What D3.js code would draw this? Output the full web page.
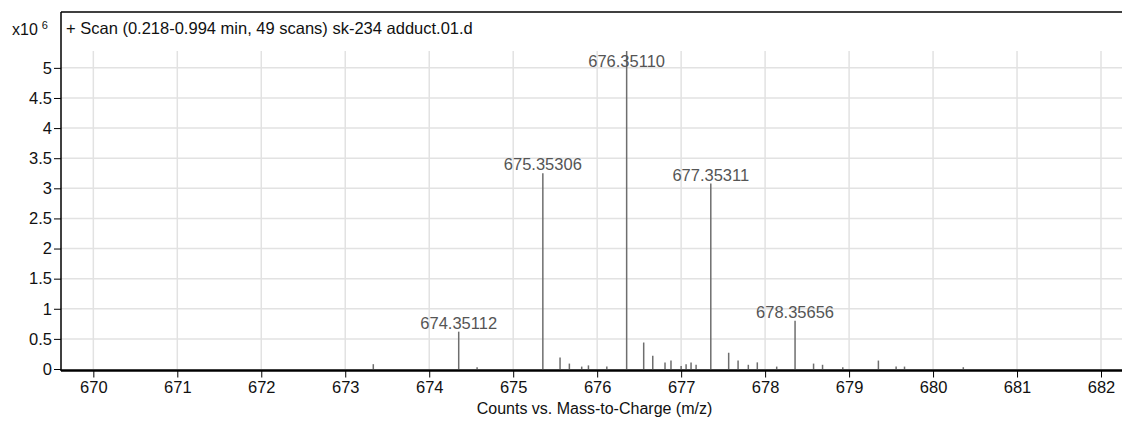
<!DOCTYPE html>
<html>
<head>
<meta charset="utf-8">
<script src="https://cdn.jsdelivr.net/npm/d3@7"></script>
<style>
  body { margin: 0; background: #fff; }
  svg { display: block; font-family: "Liberation Sans", Arial, sans-serif; }
</style>
</head>
<body>
<script>
// peak list (intensity in units of 10^6 counts)
var mzValues = [673.334, 674.35112, 674.570, 675.35306, 675.558, 675.669, 675.816, 675.896,
  676.115, 676.35110, 676.554, 676.662, 676.808, 676.879, 677.000, 677.059, 677.118, 677.178,
  677.35311, 677.566, 677.678, 677.800, 677.907, 678.138, 678.35656, 678.577, 678.684, 678.925,
  679.349, 679.560, 679.660, 680.360];
var counts = [0.08, 0.62, 0.03, 3.25, 0.19, 0.09, 0.04, 0.06,
  0.04, 5.30, 0.44, 0.22, 0.11, 0.14, 0.05, 0.08, 0.11, 0.07,
  3.08, 0.27, 0.14, 0.07, 0.11, 0.04, 0.80, 0.09, 0.07, 0.03,
  0.14, 0.04, 0.04, 0.03];
var labeledPeaks = ['674.35112', '675.35306', '676.35110', '677.35311', '678.35656'];

var xTicks = [670, 671, 672, 673, 674, 675, 676, 677, 678, 679, 680, 681, 682];
var yTicks = [0, 0.5, 1, 1.5, 2, 2.5, 3, 3.5, 4, 4.5, 5];

var titleText = '+ Scan (0.218-0.994 min, 49 scans) sk-234 adduct.01.d';
var xAxisTitle = 'Counts vs. Mass-to-Charge (m/z)';

var width = 1122, height = 422;
var left = 61, frameTop = 12, plotTop = 51, plotBottom = 369, right = 1122;

var svg = d3.select('body').append('svg').attr('width', width).attr('height', height);

var x = d3.scaleLinear().domain([669.615, 682.25]).range([left, right]);
var y = d3.scaleLinear().domain([0, 5.28]).range([plotBottom, plotTop]);

// grid
svg.append('g').selectAll('line').data(yTicks.slice(1)).enter().append('line')
  .attr('x1', left).attr('x2', right)
  .attr('y1', d => y(d)).attr('y2', d => y(d))
  .attr('stroke', '#e2e2e2').attr('stroke-width', 1.5);
svg.append('g').selectAll('line').data(xTicks).enter().append('line')
  .attr('x1', d => x(d)).attr('x2', d => x(d))
  .attr('y1', plotTop).attr('y2', plotBottom)
  .attr('stroke', '#e2e2e2').attr('stroke-width', 1.5);

// frame
svg.append('line').attr('x1', left).attr('x2', right).attr('y1', frameTop).attr('y2', frameTop)
  .attr('stroke', '#000').attr('stroke-width', 1.5);

// peaks
svg.append('g').selectAll('line').data(mzValues).enter().append('line')
  .attr('x1', d => x(d)).attr('x2', d => x(d))
  .attr('y1', plotBottom)
  .attr('y2', (d, i) => y(Math.min(counts[i], 5.28)))
  .attr('stroke', '#6e6e6e').attr('stroke-width', 1.5);

svg.append('g').selectAll('text').data(labeledPeaks).enter().append('text')
  .attr('x', d => x(+d))
  .attr('y', d => {
    var v = counts[mzValues.indexOf(+d)];
    return Math.max(y(v) - 3, 67);
  })
  .attr('text-anchor', 'middle')
  .attr('font-size', 16.5)
  .attr('fill', '#555')
  .text(d => d);

// y axis
var yAxis = svg.append('g').attr('transform', 'translate(' + left + ',0)')
  .call(d3.axisLeft(y).tickValues(yTicks).tickSize(7).tickPadding(2).tickFormat(d => String(d)));
yAxis.select('.domain').remove();
yAxis.append('line').attr('x1', 0).attr('x2', 0).attr('y1', frameTop).attr('y2', plotBottom + 2)
  .attr('stroke', '#000').attr('stroke-width', 1.5);
yAxis.selectAll('.tick line').attr('stroke', '#000');
yAxis.selectAll('.tick text').attr('font-size', 16.5).attr('fill', '#111').attr('font-family', null);

// x axis
var xAxis = svg.append('g').attr('transform', 'translate(0,' + (plotBottom + 1.5) + ')')
  .call(d3.axisBottom(x).tickValues(xTicks).tickSize(7).tickPadding(4).tickFormat(d3.format('d')));
xAxis.select('.domain').remove();
xAxis.append('line').attr('x1', left).attr('x2', right).attr('y1', 0).attr('y2', 0)
  .attr('stroke', '#000').attr('stroke-width', 2.5);
xAxis.selectAll('.tick line').attr('stroke', '#000');
xAxis.selectAll('.tick text').attr('font-size', 16.5).attr('fill', '#111').attr('font-family', null);

// titles
svg.append('text').attr('x', 66).attr('y', 34).attr('font-size', 16.5).attr('fill', '#111').text(titleText);

var mult = svg.append('text').attr('x', 12).attr('y', 35).attr('font-size', 16).attr('fill', '#111');
mult.append('tspan').text('x10');
mult.append('tspan').attr('dx', 4).attr('dy', -6).attr('font-size', 11).text('6');

svg.append('text').attr('x', (left + right) / 2 + 3).attr('y', 414).attr('text-anchor', 'middle')
  .attr('font-size', 16).attr('fill', '#111').text(xAxisTitle);
</script>
</body>
</html>
